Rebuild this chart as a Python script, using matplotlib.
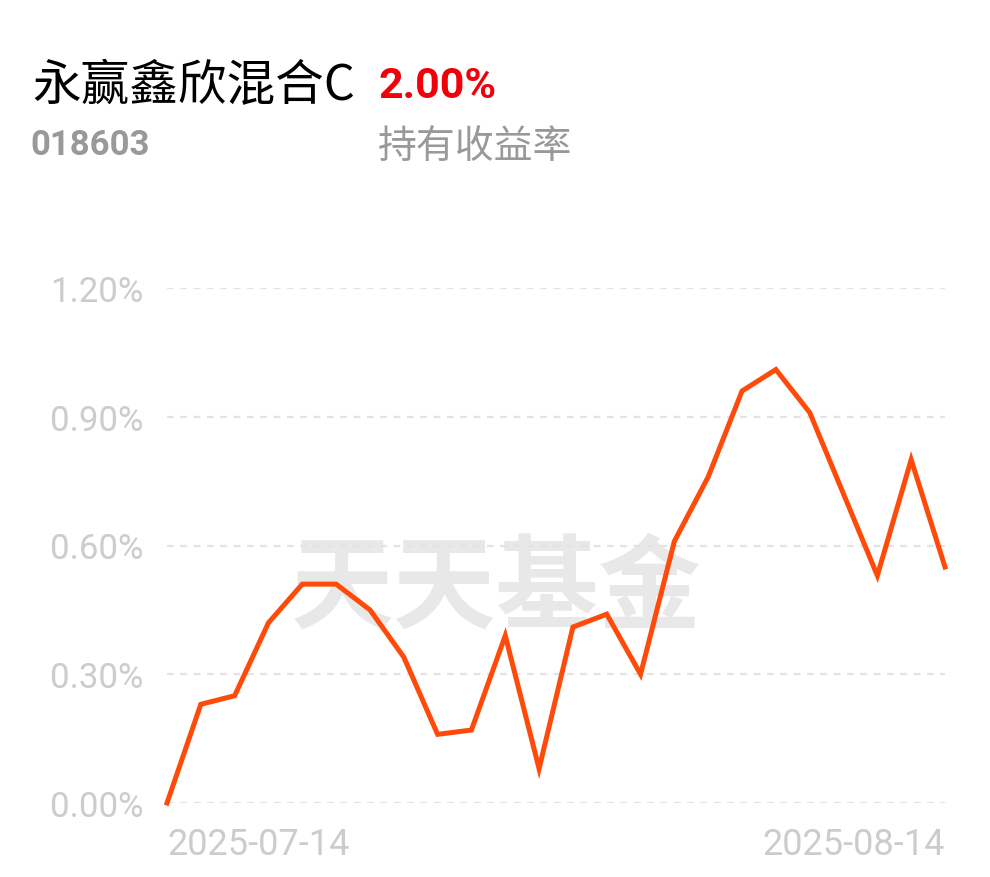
import matplotlib.pyplot as plt
from matplotlib.ticker import FuncFormatter

# 数据
fund_name = "永赢鑫欣混合C"
fund_code = "018603"
hold_return = "2.00%"
return_label = "持有收益率"
date_labels = ["2025-07-14", "2025-08-14"]
returns = [0.00, 0.23, 0.25, 0.42, 0.51, 0.51, 0.45, 0.34, 0.16, 0.17, 0.39, 0.08,
           0.41, 0.44, 0.30, 0.61, 0.76, 0.96, 1.01, 0.91, 0.72, 0.53, 0.80, 0.55]
y_ticks = [0.0, 0.3, 0.6, 0.9, 1.2]

cjk = ['Noto Sans CJK SC', 'DejaVu Sans']
num_font = ['Roboto', 'DejaVu Sans']

fig = plt.figure(figsize=(9.9, 8.78), dpi=100)
ax = fig.add_axes([167 / 990, 74 / 878, 778 / 990, 515 / 878])

# 水印 (在折线下方)
ax.text(496 / 990, 1 - 590 / 878, "天天基金", transform=fig.transFigure, family=cjk,
        fontsize=74, fontweight='bold', color='#e8e8e8', ha='center', va='center',
        zorder=1)

x = list(range(len(returns)))
ax.plot(x, returns, color='#ff4a0a', lw=3.6, solid_joinstyle='miter',
        clip_on=False, zorder=3)

ax.set_xlim(0, len(returns) - 1)
ax.set_ylim(y_ticks[0], y_ticks[-1])
ax.set_yticks(y_ticks)
ax.yaxis.set_major_formatter(FuncFormatter(lambda v, p: f"{v:.2f}%"))
ax.set_xticks([])
ax.tick_params(axis='y', length=0, pad=17, labelsize=25, labelcolor='#cccccc')
for lab in ax.get_yticklabels():
    lab.set_family(num_font)
ax.grid(axis='y', color='#e3e3e3', lw=1.6, ls=(0, (3, 3)), zorder=0)
for s in ax.spines.values():
    s.set_visible(False)
ax.patch.set_alpha(0)

# 日期标签
ax.text(0, -0.08, date_labels[0], transform=ax.transAxes, ha='left', va='center',
        fontsize=26, color='#cccccc', family=num_font)
ax.text(1, -0.08, date_labels[1], transform=ax.transAxes, ha='right', va='center',
        fontsize=26, color='#cccccc', family=num_font)

# 标题
fig.text(32 / 990, 1 - 86 / 878, fund_name, family=cjk, fontsize=35,
         color='black', va='center', ha='left')
fig.text(378 / 990, 1 - 86 / 878, hold_return, family=num_font, fontsize=31,
         fontweight='bold', color='#f0000a', va='center', ha='left')
fig.text(30 / 990, 1 - 146 / 878, fund_code, family=num_font, fontsize=25,
         fontweight='bold', color='#999999', va='center', ha='left')
fig.text(378 / 990, 1 - 147 / 878, return_label, family=cjk, fontsize=28,
         color='#999999', va='center', ha='left')

fig.savefig("out.png", dpi=100, facecolor='white')
